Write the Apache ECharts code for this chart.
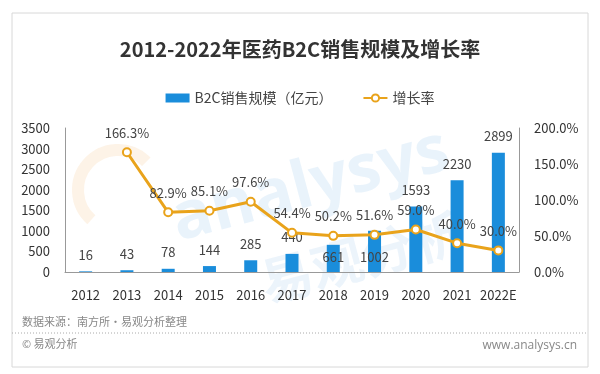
<!DOCTYPE html>
<html><head><meta charset="utf-8">
<script src="https://cdn.jsdelivr.net/npm/echarts@6/dist/echarts.min.js"></script>
<style>html,body{margin:0;padding:0;background:#fff}#c{width:600px;height:374px}</style>
</head><body><div id="c"></div>
<script>
var categories = ['2012','2013','2014','2015','2016','2017','2018','2019','2020','2021','2022E'];
var salesValues = [16,43,78,144,285,440,661,1002,1593,2230,2899];
var growthValues = [null,166.3,82.9,85.1,97.6,54.4,50.2,51.6,59.0,40.0,30.0];
var leftTicks = {min:0,max:3500,interval:500};
var rightTicks = {min:0,max:200,interval:50};
var insideLabelYears = ['2018','2019'];

var FONT = '"Noto Sans CJK SC","Noto Sans",sans-serif';
var barData = salesValues.map(function(v,i){
  if (insideLabelYears.indexOf(categories[i]) >= 0) {
    return {value:v,label:{position:'insideBottom',distance:8}};
  }
  return v;
});
var chart = echarts.init(document.getElementById('c'), null, {renderer:'canvas'});
chart.setOption({
  backgroundColor:'#fff',
  textStyle:{fontFamily:FONT},
  title:{text:'2012-2022年医药B2C销售规模及增长率',left:'center',top:34,
    textStyle:{fontSize:20,fontWeight:'bold',color:'#333',fontFamily:FONT}},
  legend:{top:86,left:'center',itemGap:30,itemWidth:24,itemHeight:9,
    textStyle:{fontSize:14,color:'#444',fontFamily:FONT},
    data:[{name:'B2C销售规模（亿元）',icon:'rect'},{name:'增长率'}]},
  grid:{left:65,right:81,top:128,bottom:102},
  graphic:[
    {type:'rect',shape:{x:12,y:13,width:576,height:354},style:{fill:'none',stroke:'#d8d8d8',lineWidth:1},z:-10},
    {type:'text',left:165,top:118,rotation:0.26,z:-5,style:{text:'analysys',font:'bold 66px "Open Sans",sans-serif',fill:'rgba(120,180,230,0.16)'}},
    {type:'text',left:255,top:205,rotation:0.26,z:-5,style:{text:'易观分析',font:'bold 52px "Noto Sans CJK SC",sans-serif',fill:'rgba(120,180,230,0.14)'}},
    {type:'arc',shape:{cx:118,cy:190,r:40,startAngle:2.3,endAngle:5.5},style:{stroke:'rgba(245,190,120,0.18)',lineWidth:12,fill:'none'},z:-5},
    {type:'text',left:22,top:316,style:{text:'数据来源：南方所·易观分析整理',font:'11px "Noto Sans CJK SC",sans-serif',fill:'#888'}},
    {type:'line',shape:{x1:12,y1:333,x2:588,y2:333},style:{stroke:'#aaa',lineWidth:1,lineDash:[1,2]}},
    {type:'text',left:22,top:338,style:{text:'© 易观分析',font:'11px "Noto Sans CJK SC",sans-serif',fill:'#888'}},
    {type:'text',right:23,top:340,style:{text:'www.analysys.cn',font:'12px "Open Sans",sans-serif',fill:'#888'}}
  ],
  xAxis:{type:'category',data:categories,
    axisLine:{lineStyle:{color:'#999'}},axisTick:{show:false},
    axisLabel:{interval:0,color:'#333',fontSize:13,margin:17,fontFamily:FONT}},
  yAxis:[
    {type:'value',min:leftTicks.min,max:leftTicks.max,interval:leftTicks.interval,
      axisLine:{show:true,lineStyle:{color:'#999'}},splitLine:{show:false},axisTick:{show:false},
      axisLabel:{color:'#333',fontSize:13,margin:15,fontFamily:FONT,formatter:function(v){return String(v);}}},
    {type:'value',min:rightTicks.min,max:rightTicks.max,interval:rightTicks.interval,
      axisLine:{show:true,lineStyle:{color:'#999'}},splitLine:{show:false},axisTick:{show:false},
      axisLabel:{color:'#333',fontSize:13,margin:15,fontFamily:FONT,formatter:function(v){return v.toFixed(1)+'%';}}}
  ],
  series:[
    {name:'B2C销售规模（亿元）',type:'bar',data:barData,barWidth:13,
      itemStyle:{color:'#1A8DDB'},
      label:{show:true,position:'top',distance:10,color:'#444',fontSize:13,fontFamily:FONT}},
    {name:'增长率',type:'line',yAxisIndex:1,data:growthValues,connectNulls:false,
      symbol:'circle',symbolSize:8,
      lineStyle:{color:'#E9A31B',width:3},
      itemStyle:{color:'#fff',borderColor:'#E9A31B',borderWidth:2},
      label:{show:true,position:'top',distance:8,color:'#444',fontSize:13,fontFamily:FONT,
        formatter:function(p){return p.value==null?'':p.value.toFixed(1)+'%';}},
      z:5}
  ]
});
</script></body></html>
